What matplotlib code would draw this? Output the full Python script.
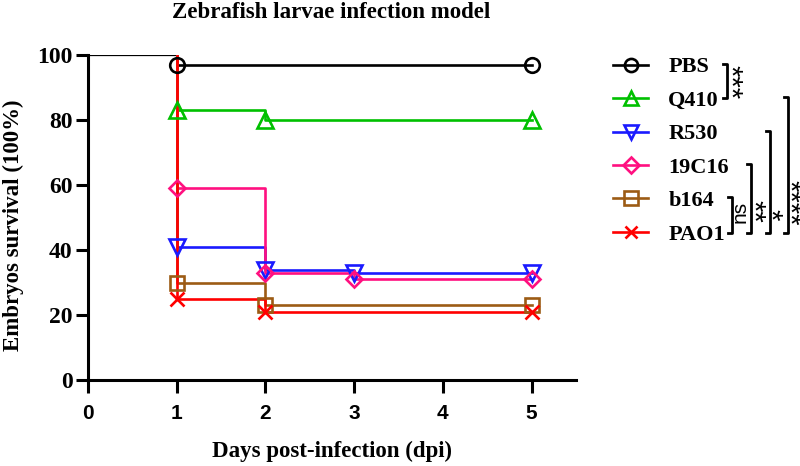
import matplotlib
matplotlib.use("Agg")
import matplotlib.pyplot as plt
from matplotlib.lines import Line2D

# survival (%) per group, Kaplan-Meier style steps starting at day 1
groups = ["PBS", "Q410", "R530", "19C16", "b164", "PAO1"]
days = {
    "PBS": [1, 5],
    "Q410": [1, 2, 5],
    "R530": [1, 2, 3, 5],
    "19C16": [1, 2, 3, 5],
    "b164": [1, 2, 5],
    "PAO1": [1, 2, 5],
}
survival = {
    "PBS": [97, 97],
    "Q410": [83, 80, 80],
    "R530": [41, 34, 33, 33],
    "19C16": [59, 33, 31, 31],
    "b164": [30, 23, 23],
    "PAO1": [25, 21, 21],
}
start_days = [0, 1]
start_surv = [100, 100]

# comparisons drawn as brackets next to the legend: (upper group, lower group, label)
comparisons = [("PBS", "Q410", "***"), ("b164", "PAO1", "ns"), ("19C16", "PAO1", "**"),
               ("R530", "PAO1", "*"), ("Q410", "PAO1", "****")]

colors = {"PBS": "#000000", "Q410": "#00c000", "R530": "#1a1aff",
          "19C16": "#ff1080", "b164": "#9c5b14", "PAO1": "#ff0000"}
markers = {"PBS": "o", "Q410": "^", "R530": "v", "19C16": "D", "b164": "s", "PAO1": "x"}
msizes = {"PBS": 10.5, "Q410": 11, "R530": 11, "19C16": 8.5, "b164": 10.5, "PAO1": 9.5}

serif = "Liberation Serif"
sans = "Liberation Sans"

fig = plt.figure(figsize=(8, 4.66), dpi=100)
ax = fig.add_axes([0.11, 0.1845, 0.61, 0.6975])

ax.plot(start_days, start_surv, color="black", lw=0.9, zorder=2)
for g in groups:
    x = [1] + days[g]
    y = [100] + survival[g]
    ax.plot(x, y, drawstyle="steps-post", color=colors[g], lw=1.9, zorder=3)
    ax.plot(days[g], survival[g], linestyle="none", marker=markers[g], ms=msizes[g],
            mfc="none", mec=colors[g], mew=1.9, zorder=4)

ax.set_xlim(0, 5.5)
ax.set_ylim(0, 100)
ax.set_xticks(range(0, 6))
ax.set_yticks(range(0, 101, 20))
for s in ["top", "right"]:
    ax.spines[s].set_visible(False)
for s in ["left", "bottom"]:
    ax.spines[s].set_linewidth(2.2)
ax.tick_params(width=2.2, length=9, direction="out")
ax.tick_params(axis="x", pad=8)
ax.tick_params(axis="y", pad=2)
for t in ax.get_xticklabels():
    t.set_fontfamily(sans)
    t.set_fontweight("bold")
    t.set_fontsize(15)
for t in ax.get_yticklabels():
    t.set_fontfamily(serif)
    t.set_fontweight("bold")
    t.set_fontsize(17)

ax.set_xlabel("Days post-infection (dpi)", fontfamily=serif, fontweight="bold",
              fontsize=16.5, labelpad=13)
ax.set_ylabel("Embryos survival (100%)", fontfamily=serif, fontweight="bold",
              fontsize=16.5)
ax.yaxis.set_label_coords(-0.131, 0.477)
fig.text(0.414, 0.974, "Zebrafish larvae infection model", ha="center", va="center",
         fontfamily=serif, fontweight="bold", fontsize=16.5)

handles = [Line2D([0], [0], color=colors[g], lw=1.9, marker=markers[g], ms=msizes[g] * 0.9,
                  mfc="none", mec=colors[g], mew=1.9) for g in groups]
leg = fig.legend(handles, groups, loc="upper left", bbox_to_anchor=(0.766, 0.878),
                 frameon=False, handlelength=1.6, handletextpad=0.9, labelspacing=0.58,
                 borderaxespad=0, borderpad=0,
                 prop={"family": serif, "weight": "bold", "size": 16})

# brackets in figure pixel coordinates
row_y = {"PBS": 65, "Q410": 98, "R530": 132, "19C16": 165, "b164": 198, "PAO1": 233}
bracket_x = {"***": 727, "ns": 732, "**": 751, "*": 770, "****": 788}
label_x = {"***": 730, "ns": 740, "**": 753, "*": 770, "****": 789}
label_y = {"***": 82, "ns": 212, "**": 211, "*": 215, "****": 203}
label_size = {"***": 21, "ns": 15, "**": 21, "*": 21, "****": 21}
W, H = 800, 466
for top, bot, lab in comparisons:
    bx = bracket_x[lab]
    y0, y1 = row_y[top] - 1, row_y[bot]
    xs = [bx - 4, bx, bx, bx - 4]
    ys = [y0, y0, y1, y1]
    fig.add_artist(Line2D([v / W for v in xs], [1 - v / H for v in ys],
                          color="black", lw=2.0, transform=fig.transFigure))
    rot = 90 if lab == "ns" else 270
    fig.text(label_x[lab] / W, 1 - label_y[lab] / H, lab, rotation=rot, ha="center",
             va="center", fontfamily=sans, fontsize=label_size[lab])

fig.savefig("out.png", dpi=100)
